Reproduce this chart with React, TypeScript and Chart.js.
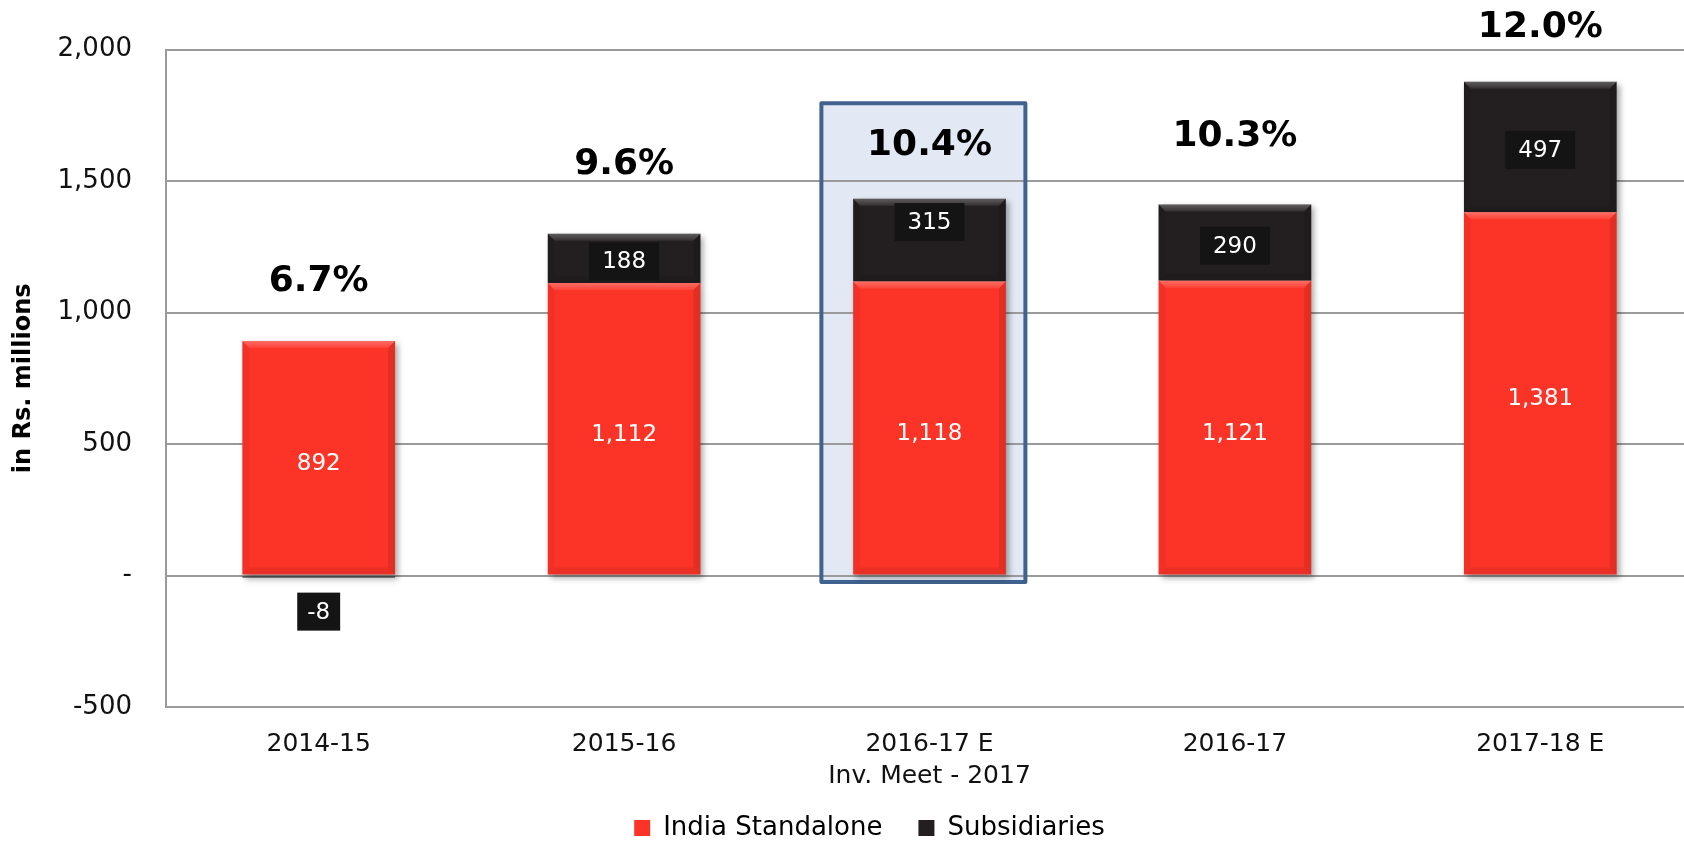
import React, { useEffect, useRef } from 'react';
import { Chart, registerables } from 'chart.js';

Chart.register(...registerables);

// ---- data ----
const categories: string[][] = [
  ['2014-15'],
  ['2015-16'],
  ['2016-17 E', 'Inv. Meet - 2017'],
  ['2016-17'],
  ['2017-18 E'],
];
const indiaStandalone = [892, 1112, 1118, 1121, 1381];
const subsidiaries = [-8, 188, 315, 290, 497];
const growthLabels = ['6.7%', '9.6%', '10.4%', '10.3%', '12.0%'];
const yMin = -500;
const yMax = 2000;
const yStep = 500;
const highlightIndex = 2;
const highlightRange = [-25, 1796];

// ---- styles ----
const RED = '#fc3428';
const BLACK = '#231f20';
const LABEL_BOX = '#141414';
const GRID = '#9a9a9a';
const FONT = 'DejaVu Sans';
const growthOffsets = [59, 69, 53, 68, 54];
const subLabelShift = [0, 0, -21, 0, 0];
const legendShiftX = 23;

Chart.defaults.font.family = FONT;

function highlightRect(chart: any) {
  const { scales } = chart;
  const x = scales.x, y = scales.y;
  const xc = x.getPixelForValue(highlightIndex);
  const cw = x.width / categories.length;
  const l = xc - 0.354 * cw, r = xc + 0.314 * cw;
  const t = y.getPixelForValue(highlightRange[1]);
  const b = y.getPixelForValue(highlightRange[0]);
  return { l, r, t, b };
}

const highlightPlugin = {
  id: 'highlight',
  beforeDraw(chart: any) {
    const ctx = chart.ctx;
    const { l, r, t, b } = highlightRect(chart);
    ctx.save();
    ctx.fillStyle = '#e2e9f4';
    ctx.fillRect(l, t, r - l, b - t);
    ctx.restore();
  },
  beforeDatasetsDraw(chart: any) {
    const ctx = chart.ctx;
    const { l, r, t, b } = highlightRect(chart);
    ctx.save();
    ctx.strokeStyle = '#40628f';
    ctx.lineWidth = 4;
    ctx.lineJoin = 'round';
    ctx.strokeRect(l, t, r - l, b - t);
    ctx.restore();
  },
};

// shifts the legend horizontally and lets the two-line x tick label overflow its box
const layoutTweakPlugin = {
  id: 'layoutTweak',
  afterLayout(chart: any) {
    const lg = chart.legend;
    if (lg) {
      lg.left += legendShiftX;
      lg.right += legendShiftX;
    }
    const xs = chart.scales.x;
    if (xs) xs.bottom += 40;
  },
};

const shadowPlugin = {
  id: 'barShadow',
  beforeDatasetDraw(chart: any) {
    const ctx = chart.ctx;
    ctx.save();
    ctx.shadowColor = 'rgba(0,0,0,0.35)';
    ctx.shadowBlur = 6;
    ctx.shadowOffsetX = 3;
    ctx.shadowOffsetY = 3;
  },
  afterDatasetDraw(chart: any) {
    chart.ctx.restore();
  },
};

function poly(ctx: CanvasRenderingContext2D, pts: number[][], fill: any) {
  ctx.beginPath();
  ctx.moveTo(pts[0][0], pts[0][1]);
  for (let i = 1; i < pts.length; i++) ctx.lineTo(pts[i][0], pts[i][1]);
  ctx.closePath();
  ctx.fillStyle = fill;
  ctx.fill();
}

const bevelPlugin = {
  id: 'bevel',
  afterDatasetDraw(chart: any, args: any) {
    const ctx = chart.ctx;
    const meta = chart.getDatasetMeta(args.index);
    ctx.save();
    meta.data.forEach((el: any) => {
      const p = el.getProps(['x', 'y', 'base', 'width'], true);
      const t = Math.min(p.y, p.base), b = Math.max(p.y, p.base);
      const l = p.x - p.width / 2, r = p.x + p.width / 2;
      const h = b - t;
      if (h < 6) return;
      const d = Math.min(7, h / 2, p.width / 2);
      const g = ctx.createLinearGradient(0, t, 0, t + d);
      g.addColorStop(0, 'rgba(255,255,255,0.28)');
      g.addColorStop(1, 'rgba(255,255,255,0.08)');
      poly(ctx, [[l, t], [r, t], [r - d, t + d], [l + d, t + d]], g);
      poly(ctx, [[l, b], [r, b], [r - d, b - d], [l + d, b - d]], 'rgba(0,0,0,0.07)');
      poly(ctx, [[l, t], [l + d, t + d], [l + d, b - d], [l, b]], 'rgba(0,0,0,0.04)');
      poly(ctx, [[r, t], [r - d, t + d], [r - d, b - d], [r, b]], 'rgba(0,0,0,0.10)');
    });
    ctx.restore();
  },
};

const labelPlugin = {
  id: 'valueLabels',
  afterDatasetsDraw(chart: any) {
    const { ctx, scales } = chart;
    const y = scales.y;
    const m0 = chart.getDatasetMeta(0);
    const m1 = chart.getDatasetMeta(1);
    ctx.save();
    ctx.textAlign = 'center';
    ctx.textBaseline = 'middle';
    for (let i = 0; i < categories.length; i++) {
      // India standalone
      const e0 = m0.data[i].getProps(['x', 'y', 'base'], true);
      ctx.font = `23px "${FONT}"`;
      ctx.fillStyle = '#ffffff';
      ctx.fillText(indiaStandalone[i].toLocaleString('en-US'), e0.x, (e0.y + e0.base) / 2 + 6);

      // Subsidiaries
      const e1 = m1.data[i].getProps(['x', 'y', 'base'], true);
      const v = subsidiaries[i];
      const txt = v.toLocaleString('en-US');
      const tw = ctx.measureText(txt).width;
      const cy = (v < 0 ? Math.max(e1.y, e1.base) + 31 : (e1.y + e1.base) / 2 + subLabelShift[i]) + 3;
      const bw = tw + (v < 0 ? 20 : 26);
      const bh = 38;
      ctx.fillStyle = LABEL_BOX;
      ctx.fillRect(e1.x - bw / 2, cy - bh / 2, bw, bh);
      ctx.fillStyle = '#ffffff';
      ctx.fillText(txt, e1.x, cy + 1);

      // growth label
      const total = indiaStandalone[i] + Math.max(v, 0);
      const ty = y.getPixelForValue(total) - growthOffsets[i];
      ctx.font = `bold 36px "${FONT}"`;
      ctx.fillStyle = '#000000';
      ctx.fillText(growthLabels[i], e0.x, ty);
    }
    ctx.restore();
  },
};

export default function App() {
  const ref = useRef<HTMLCanvasElement>(null);
  useEffect(() => {
    const canvas = ref.current!;
    const chart = new Chart(canvas, {
      type: 'bar',
      data: {
        labels: categories as any,
        datasets: [
          {
            label: 'India Standalone',
            data: indiaStandalone,
            backgroundColor: RED,
            barPercentage: 0.5,
            categoryPercentage: 1,
          },
          {
            label: 'Subsidiaries',
            data: subsidiaries,
            backgroundColor: BLACK,
            barPercentage: 0.5,
            categoryPercentage: 1,
          },
        ],
      },
      options: {
        responsive: false,
        animation: false,
        events: [],
        layout: { padding: { top: 49, right: 7, bottom: 9, left: 0 } },
        scales: {
          x: {
            stacked: true,
            grid: { display: false, drawTicks: false },
            border: { display: false },
            ticks: { font: { size: 25, lineHeight: 1.26 }, color: '#111', padding: 22 },
            afterFit: (s: any) => { s.height = 72; },
          },
          y: {
            stacked: true,
            min: yMin,
            max: yMax,
            ticks: {
              stepSize: yStep,
              font: { size: 26 },
              color: '#111',
              padding: 34,
              callback: (v: any) => (Number(v) === 0 ? '-' : Number(v).toLocaleString('en-US')),
            },
            grid: { color: GRID, lineWidth: 2, drawTicks: false },
            border: { display: true, color: GRID, width: 2 },
            title: {
              display: true,
              text: 'in Rs. millions',
              font: { size: 24, weight: 'bold' },
              color: '#000',
              padding: { top: 9, bottom: 0 },
            },
            afterFit: (s: any) => { s.width = 166; },
          },
        },
        plugins: {
          legend: {
            position: 'bottom',
            labels: { boxWidth: 16, boxHeight: 16, font: { size: 26 }, color: '#000', padding: 36 },
          },
          tooltip: { enabled: false },
        },
      } as any,
      plugins: [highlightPlugin, layoutTweakPlugin, shadowPlugin, bevelPlugin, labelPlugin],
    });
    return () => chart.destroy();
  }, []);
  return (
    <div style={{ position: 'fixed', left: 0, top: 0, width: 1684, height: 844, overflow: 'hidden', background: '#fff' }}>
      <canvas ref={ref} width={1700} height={860} style={{ display: 'block', width: 1700, height: 860 }} />
    </div>
  );
}
